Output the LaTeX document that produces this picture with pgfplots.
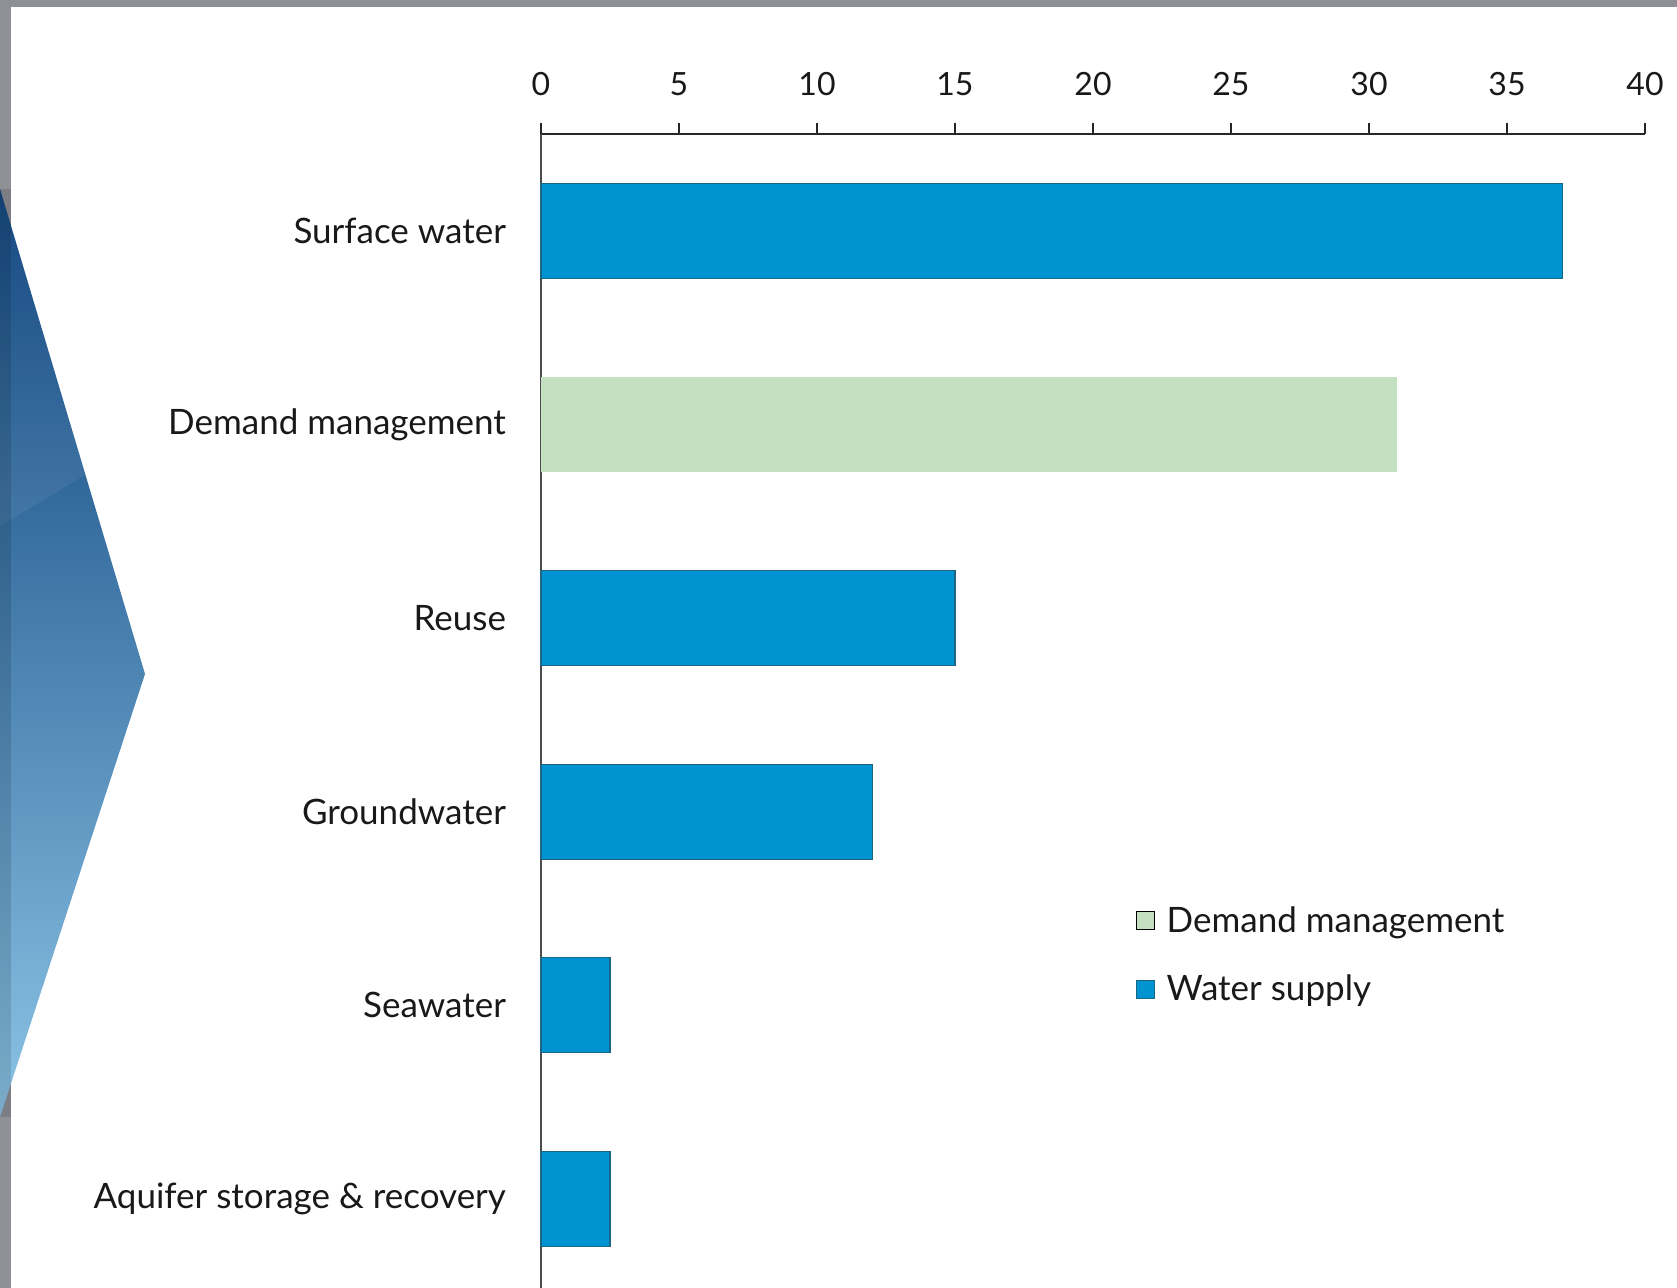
\documentclass[border=0pt]{standalone}
\usepackage{fontspec}
\setmainfont{Lato}
\usepackage{pgfplots}
\pgfplotsset{compat=1.18}
\definecolor{wsblue}{HTML}{0093D1}
\definecolor{wsedge}{HTML}{1B6585}
\definecolor{dmgreen}{HTML}{C3E1C1}
\definecolor{framegray}{HTML}{8E9096}
\definecolor{chevtop}{HTML}{083F7A}
\definecolor{chevmid}{HTML}{225D9B}
\definecolor{chevbot}{HTML}{8CC4E6}
\begin{document}
\begin{tikzpicture}
\useasboundingbox (0pt,0pt) rectangle (838.5pt,644pt);
\fill[white] (0pt,0pt) rectangle (838.5pt,644pt);
\fill[framegray] (0pt,640.5pt) rectangle (838.5pt,644pt);
\fill[framegray] (0pt,0pt) rectangle (5.5pt,644pt);
\shade[top color=chevtop, middle color=chevmid, bottom color=chevbot] (0pt,549.5pt) -- (72.5pt,307pt) -- (0pt,85.5pt) -- cycle;
\fill[white, opacity=0.06] (0pt,549.5pt) -- (42.5pt,406.5pt) -- (0pt,381pt) -- cycle;
\fill[black, opacity=0.12] (0pt,549.5pt) rectangle (5.5pt,85.5pt);
\begin{axis}[
  at={(270.5pt,0pt)}, anchor=south west,
  scale only axis, width=552pt, height=577pt,
  xbar, bar shift=0pt, bar width=47.5pt,
  xmin=0, xmax=40, ymin=-0.5, ymax=5.46,
  y dir=reverse,
  axis x line*=top, axis y line*=left,
  xtick={0,5,...,40},
  tick align=outside,
  major tick length=5.5pt,
  x tick style={line width=0.8pt, black!85},
  x axis line style={line width=1pt, black!85},
  y axis line style={line width=0.7pt, black!70},
  ytick={0,1,2,3,4,5},
  yticklabels={Surface water, Demand management, Reuse, Groundwater, Seawater, Aquifer storage \& recovery},
  y tick style={draw=none},
  /pgf/number format/assume math mode=true,
  x tick label style={font=\fontsize{16}{19}\selectfont, yshift=10pt, text=black!90},
  y tick label style={font=\fontsize{17.5}{21}\selectfont, xshift=-8.5pt, text=black!90},
  legend style={draw=none, fill=none, at={(0.533,0.338)}, anchor=north west,
    font=\fontsize{17.5}{21}\selectfont, row sep=16pt, text=black!90},
  legend cell align=left,
  legend image code/.code={\draw[#1, line width=0.3pt] (0pt,-4.5pt) rectangle (9pt,4.5pt); \path (13pt,0pt);},
  clip=false,
]
\addplot[fill=dmgreen, draw=none] coordinates {(31,1)};
\addlegendentry{Demand management}
\addplot[fill=wsblue, draw=wsedge, line width=0.6pt] coordinates {(37,0) (15,2) (12,3) (2.5,4) (2.5,5)};
\addlegendentry{Water supply}
\end{axis}
\end{tikzpicture}
\end{document}
